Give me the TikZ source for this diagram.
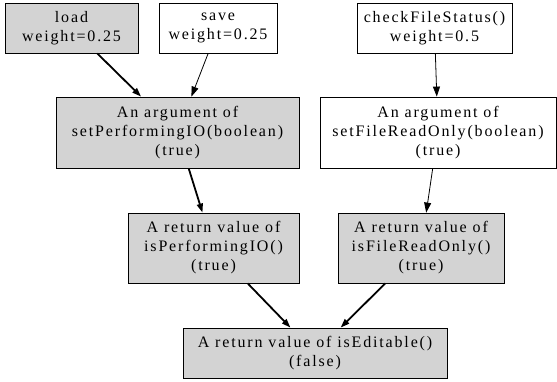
\documentclass[tikz,border=0pt]{standalone}
\usepackage{fontspec}
\setmainfont{Liberation Serif}[LetterSpace=11.5]
\usepackage{tikz}
\usetikzlibrary{arrows.meta}
\definecolor{hitgray}{HTML}{D3D3D3}
\tikzstyle{block} = [rectangle, draw, line width=0.8pt, align=center, inner sep=0pt,
minimum height=50pt, font=\fontsize{16}{19}\selectfont]
\tikzstyle{hit} = [fill=hitgray]
\tikzstyle{line} = [draw, -{Triangle[length=10pt,width=7pt]}, line width=0.8pt]
\tikzstyle{heavy} = [line width=1.8pt, -{Triangle[length=9pt,width=6pt]}]

\begin{document}
\begin{tikzpicture}
\useasboundingbox (0,0) rectangle (557pt,-382pt);
% Place nodes
	\node [block, hit, minimum width=133pt] at (71.5pt,-28pt) (load) {load\\weight=0.25};
	\node [block, right of=load, node distance=146.5pt, minimum width=118pt] (save) {save\\weight=0.25};
	\node [block, right of=save, node distance=216.5pt, minimum width=155pt] (check) {checkFileStatus()\\weight=0.5};
	\node [block, hit, below of=load, node distance=104.5pt, xshift=106pt, minimum width=243pt, minimum height=71pt] (setIO) {An argument of\\setPerformingIO(boolean)\\(true)};
	\node [block, below of=check, node distance=104.5pt, xshift=3.5pt, minimum width=236pt, minimum height=71pt] (setRO) {An argument of\\setFileReadOnly(boolean)\\(true)};
	\node [block, hit, below of=setIO, node distance=115.5pt, xshift=36pt, minimum width=171pt, minimum height=70pt] (isIO) {A return value of\\isPerformingIO()\\(true)};
	\node [block, hit, below of=setRO, node distance=115.5pt, xshift=-17pt, minimum width=166pt, minimum height=70pt] (isRO) {A return value of\\isFileReadOnly()\\(true)};
	\node [block, hit, below of=isIO, node distance=105pt, xshift=101.5pt, minimum width=264pt] (isEd) {A return value of isEditable()\\(false)};

% Draw edges
	\path [line, heavy] (load) -- (setIO);
	\path [line] (save) -- (setIO);
	\path [line] (check) -- (setRO);
	\path [line, heavy] (setIO) -- (isIO);
	\path [line] (setRO) -- (isRO);
	\path [line, heavy] (isIO) -- (isEd);
	\path [line, heavy] (isRO) -- (isEd);

\end{tikzpicture}
\end{document}
